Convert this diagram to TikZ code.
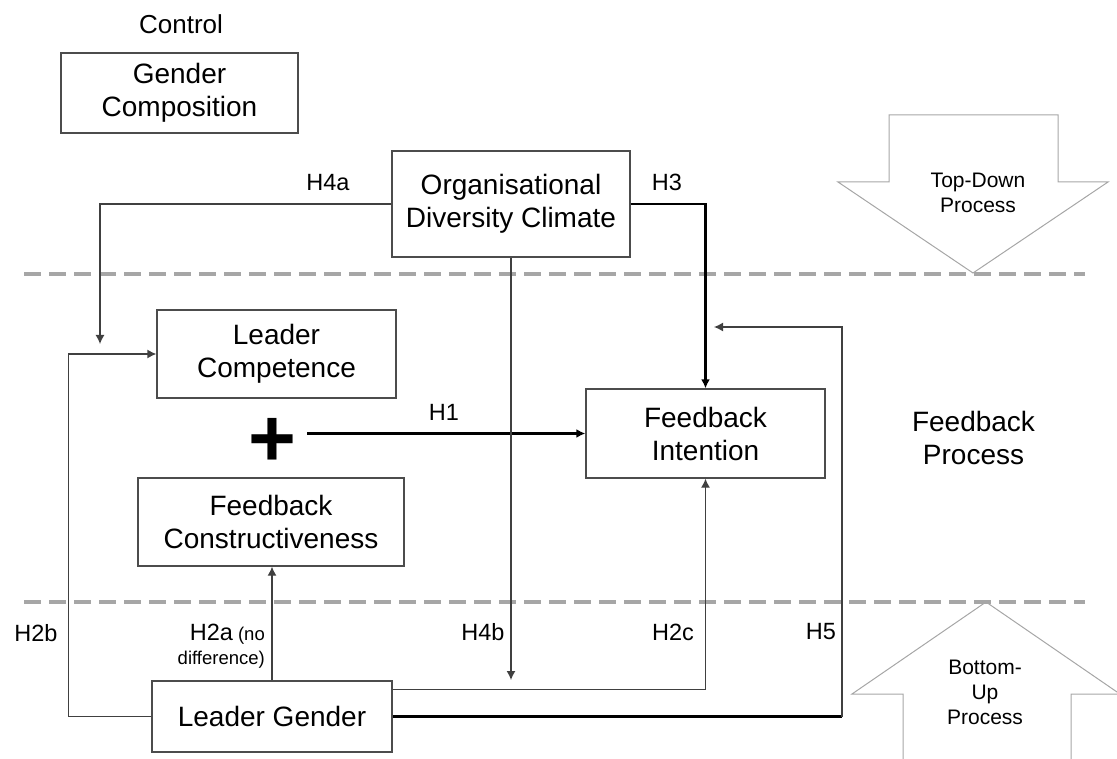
\documentclass[tikz,border=0pt]{standalone}
\usepackage{fontspec}
\setmainfont{Liberation Sans}
\usetikzlibrary{arrows.meta}
\usetikzlibrary{calc}

\begin{document}
\begin{tikzpicture}[x=1pt,y=-1pt,
		box/.style={draw=black!70, line width=1.3pt, align=center, inner sep=0pt, font=\fontsize{28}{33}\selectfont},
		hlabel/.style={inner sep=0pt, font=\fontsize{23.5}{28}\selectfont},
		thinline/.style={draw=black!75, line width=1.3pt},
		thickline/.style={draw=black, line width=2.5pt},
		tip/.style={-{Latex[length=9pt,width=9pt]}},
		level/.style={draw=black!35, line width=4pt, dash pattern=on 16.7pt off 8.3pt},
		process/.style={draw=black!35, line width=1pt},
		processtext/.style={align=center, inner sep=0pt, font=\fontsize{21}{25}\selectfont}]

		\useasboundingbox (0,0) rectangle (1117,759);

		% the three levels
		\draw[level] (24,274) -- (1085,274);
		\draw[level] (24,602) -- (1085,602);

		\path
		(181,24) node[inner sep=0pt, font=\fontsize{26}{31}\selectfont] (control) {Control}
		(179.5,93) node[box, minimum width=237pt, minimum height=80pt] (gc) {Gender\\Composition}
		(511,204) node[box, minimum width=238pt, minimum height=106pt] (odc) {Organisational\\Diversity Climate}
		(276.5,354) node[box, minimum width=239pt, minimum height=88pt] (lc) {Leader\\Competence}
		(705.5,433.5) node[box, minimum width=239pt, minimum height=89pt] (fi) {Feedback\\Intention}
		(271,522) node[box, minimum width=266pt, minimum height=88pt] (fc) {Feedback\\Constructiveness}
		(272,716.5) node[box, minimum width=240pt, minimum height=71pt] (lg) {Leader Gender}
		(272,442) node[inner sep=0pt, font=\fontsize{82}{82}\selectfont\bfseries] (plus) {+};

		% process arrows
		\draw[process] (889,115) -- (1058,115) -- (1058,182) -- (1108,182) -- (973,273)
			-- (838,182) -- (889,182) -- cycle;
		\draw[process] (903,759) -- (903,694) -- (852,694) -- (986,602) -- (1117,692)
			(1117,694) -- (1071,694) -- (1071,759);
		\node[processtext] (topdown) at (978,193) {Top-Down\\Process};
		\node[processtext] (bottomup) at (985,692) {Bottom-\\Up\\Process};
		\node[processtext, font=\fontsize{28}{33}\selectfont] (fbprocess) at (973.5,438) {Feedback\\Process};

		% hypotheses
		\coordinate (h4a end) at (100,344);
		\draw[thinline, tip] (odc.west) -| (h4a end);
		\draw[thickline, tip] (odc.east) -| (fi.north);

		\coordinate (h1 start) at (307,433.5);
		\draw[thickline, tip] (h1 start) -- (fi.west);

		\coordinate (h4b end) at (511,680);
		\draw[thinline, tip] (odc.south) -- (h4b end);

		\draw[thinline, tip] (lg.north) -- (lg.north |- fc.south);
		\draw[thinline, tip] (lg.west) -- ++(-83,0) |- (lc.west);
		\draw[thinline, tip] ($(lg.north east)+(0,9)$) -| (fi.south);

		\coordinate (h5 corner) at (842,716.5);
		\coordinate (h5 end) at (714,327);
		\draw[thickline] (lg.east) -- (h5 corner);
		\draw[thinline, tip] (h5 corner) |- (h5 end);

		% labels
		\node[hlabel] at (328,183) {H4a};
		\node[hlabel] at (667,182) {H3};
		\node[hlabel] at (444,412) {H1};
		\node[hlabel] at (36,633) {H2b};
		\node[hlabel, anchor=north east, align=right, font=\fontsize{18.5}{23.5}\selectfont] at (265,624)
			{{\fontsize{23.5}{23.5}\selectfont H2a} (no\\difference)};
		\node[hlabel] at (483,632) {H4b};
		\node[hlabel] at (673,632) {H2c};
		\node[hlabel] at (821,632) {H5};
	\end{tikzpicture}
\end{document}
